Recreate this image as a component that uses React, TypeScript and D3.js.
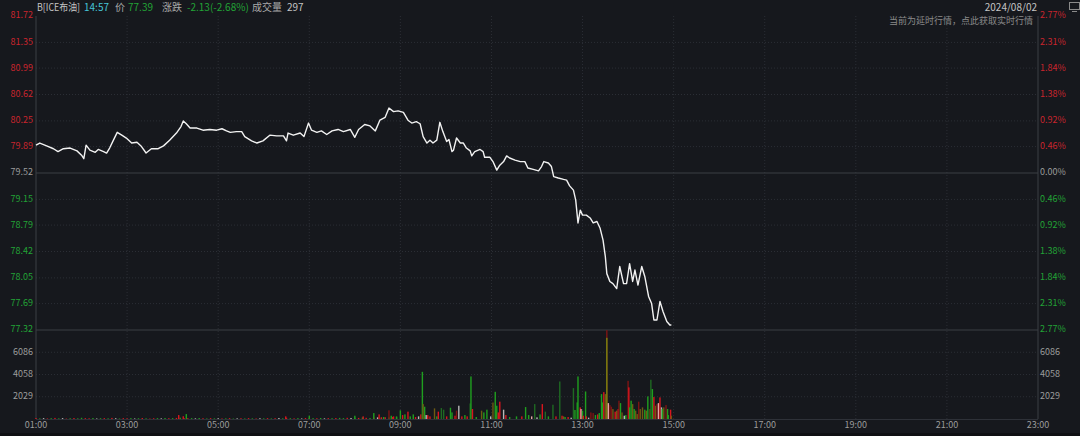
import * as d3 from "d3";

// axis labels as shown on the chart
const priceTicks = ["81.72", "81.35", "80.99", "80.62", "80.25", "79.89", "79.52", "79.15", "78.79", "78.42", "78.05", "77.69", "77.32"];
const pctTicks = ["2.77%", "2.31%", "1.84%", "1.38%", "0.92%", "0.46%", "0.00%", "0.46%", "0.92%", "1.38%", "1.84%", "2.31%", "2.77%"];
const volTicks = [2029, 4058, 6086];
const timeTicks = ["01:00", "03:00", "05:00", "07:00", "09:00", "11:00", "13:00", "15:00", "17:00", "19:00", "21:00", "23:00"];
const prevClose = 79.52;

// intraday price (time, price)
const pricePoints: [string, number][] = [
  ["01:00", 79.91], ["01:05", 79.94], ["01:14", 79.90], ["01:23", 79.86], ["01:29", 79.82], ["01:36", 79.86],
  ["01:45", 79.87], ["01:54", 79.83], ["02:00", 79.77], ["02:03", 79.72], ["02:06", 79.91], ["02:11", 79.84],
  ["02:18", 79.81], ["02:22", 79.85], ["02:29", 79.82], ["02:33", 79.80], ["02:37", 79.87], ["02:42", 79.98],
  ["02:47", 80.09], ["02:53", 80.05], ["02:59", 80.01], ["03:06", 79.94], ["03:13", 79.95], ["03:19", 79.89],
  ["03:25", 79.80], ["03:32", 79.86], ["03:41", 79.86], ["03:48", 79.90], ["03:56", 79.98], ["04:05", 80.08],
  ["04:11", 80.17], ["04:14", 80.25], ["04:18", 80.21], ["04:23", 80.15], ["04:32", 80.15], ["04:40", 80.12],
  ["04:49", 80.13], ["04:58", 80.12], ["05:05", 80.14], ["05:11", 80.11], ["05:16", 80.09], ["05:24", 80.10],
  ["05:31", 80.10], ["05:35", 80.03], ["05:44", 79.97], ["05:51", 79.94], ["05:59", 79.97], ["06:08", 80.05],
  ["06:17", 80.04], ["06:26", 80.04], ["06:30", 79.97], ["06:32", 80.08], ["06:39", 80.05], ["06:48", 80.08],
  ["06:53", 80.03], ["06:59", 80.22], ["07:03", 80.12], ["07:10", 80.09], ["07:16", 80.11], ["07:23", 80.06],
  ["07:30", 80.11], ["07:38", 80.13], ["07:45", 80.10], ["07:54", 80.13], ["08:00", 80.02], ["08:05", 80.13],
  ["08:13", 80.20], ["08:20", 80.18], ["08:27", 80.11], ["08:33", 80.26], ["08:40", 80.30], ["08:45", 80.43],
  ["08:51", 80.38], ["08:57", 80.39], ["09:04", 80.37], ["09:10", 80.26], ["09:15", 80.22], ["09:21", 80.24],
  ["09:26", 80.21], ["09:30", 80.03], ["09:35", 79.94], ["09:39", 79.98], ["09:43", 79.94], ["09:48", 79.98],
  ["09:52", 80.23], ["09:56", 80.10], ["10:01", 79.96], ["10:04", 79.99], ["10:08", 79.82], ["10:10", 79.84],
  ["10:14", 80.01], ["10:19", 79.94], ["10:23", 79.94], ["10:27", 79.87], ["10:32", 79.83], ["10:34", 79.76],
  ["10:38", 79.82], ["10:45", 79.85], ["10:49", 79.82], ["10:51", 79.74], ["10:58", 79.74], ["11:02", 79.68],
  ["11:07", 79.56], ["11:11", 79.63], ["11:16", 79.68], ["11:20", 79.76], ["11:24", 79.73], ["11:31", 79.70],
  ["11:38", 79.68], ["11:44", 79.68], ["11:48", 79.59], ["11:55", 79.57], ["12:02", 79.55], ["12:06", 79.61],
  ["12:09", 79.68], ["12:15", 79.66], ["12:19", 79.61], ["12:22", 79.47], ["12:28", 79.45], ["12:35", 79.43],
  ["12:39", 79.42], ["12:43", 79.34], ["12:48", 79.28], ["12:51", 79.14], ["12:54", 78.82], ["12:57", 79.00],
  ["13:00", 78.93], ["13:05", 78.93], ["13:10", 78.89], ["13:14", 78.82], ["13:19", 78.84], ["13:23", 78.75],
  ["13:27", 78.58], ["13:30", 78.35], ["13:32", 78.11], ["13:36", 78.00], ["13:40", 77.97], ["13:45", 77.90],
  ["13:49", 78.21], ["13:54", 77.97], ["13:58", 77.97], ["14:02", 78.25], ["14:06", 78.00], ["14:09", 78.16],
  ["14:13", 77.95], ["14:18", 78.21], ["14:22", 78.07], ["14:27", 77.79], ["14:31", 77.69], ["14:34", 77.46],
  ["14:38", 77.46], ["14:42", 77.72], ["14:46", 77.58], ["14:51", 77.44], ["14:55", 77.39], ["14:57", 77.39],
];

// quiet-session volume, one value every 5 minutes from 01:00
const baseVol = [
  90, 60, 80, 50, 70, 100, 60, 80, 40, 70, 90, 60,
  110, 80, 60, 90, 50, 70, 80, 60, 100, 70, 50, 80,
  60, 80, 50, 70, 90, 60, 40, 70, 80, 60, 90, 70,
  80, 100, 120, 90, 70, 80, 60, 90, 70, 50, 80, 60,
  70, 50, 60, 80, 40, 60, 70, 50, 80, 60, 50, 70,
  60, 80, 50, 70, 90, 60, 110, 70, 60, 80, 50, 90,
  100, 80, 70, 90, 60, 80, 70, 90, 100, 80, 110, 90,
  120, 100, 140, 110, 90, 130, 150, 120, 160, 140, 180, 150,
];
const baseColor =
  "rgwrgrgwrgrg" + "grrgwgrgrwgr" + "rgwgrgrrgwgr" + "grgrrgwgrgrg" +
  "wrgrgwrgrgrw" + "grgrwgrgrgwr" + "rgrgwrgrggrw" + "grgrgrwgrgrg";

// volume bars (time, volume, colour key)
const volBars: [string, number, string][] = [
  ["04:08", 360, "r"], ["04:14", 250, "r"], ["04:18", 450, "g"], ["06:29", 240, "r"], ["07:00", 300, "g"],
  ["08:00", 300, "g"], ["08:11", 240, "r"], ["08:25", 540, "g"], ["08:32", 420, "r"], ["08:35", 150, "r"],
  ["08:38", 180, "g"], ["08:45", 790, "R"], ["08:48", 300, "g"], ["08:51", 240, "r"], ["08:55", 240, "g"],
  ["09:00", 790, "g"], ["09:03", 360, "r"], ["09:06", 420, "g"], ["09:10", 670, "r"], ["09:13", 240, "g"],
  ["09:17", 420, "g"], ["09:20", 180, "r"], ["09:24", 240, "w"], ["09:27", 420, "r"], ["09:29", 4300, "g"],
  ["09:30", 1360, "o"], ["09:32", 1120, "g"], ["09:34", 360, "w"], ["09:36", 360, "r"], ["09:39", 240, "r"],
  ["09:45", 970, "o"], ["09:48", 240, "g"], ["09:50", 670, "r"], ["09:54", 1000, "G"], ["09:57", 850, "G"],
  ["10:01", 240, "r"], ["10:06", 1030, "g"], ["10:08", 600, "g"], ["10:12", 300, "r"], ["10:14", 760, "R"],
  ["10:17", 1210, "w"], ["10:21", 240, "r"], ["10:25", 360, "g"], ["10:28", 240, "r"], ["10:32", 1420, "G"],
  ["10:33", 3880, "g"], ["10:35", 910, "r"], ["10:40", 180, "g"], ["10:47", 760, "o"], ["10:50", 600, "g"],
  ["10:54", 850, "g"], ["10:59", 240, "w"], ["11:02", 1500, "o"], ["11:05", 2480, "g"], ["11:07", 1210, "g"],
  ["11:09", 600, "r"], ["11:11", 1580, "r"], ["11:16", 850, "w"], ["11:19", 360, "r"], ["11:24", 180, "g"],
  ["11:33", 240, "g"], ["11:40", 240, "r"], ["11:45", 1090, "g"], ["11:49", 360, "g"], ["11:53", 240, "p"],
  ["11:57", 1360, "G"], ["12:00", 150, "w"], ["12:04", 420, "g"], ["12:07", 1360, "r"], ["12:11", 670, "G"],
  ["12:15", 240, "g"], ["12:21", 1300, "G"], ["12:25", 240, "r"], ["12:30", 3420, "G"], ["12:33", 300, "r"],
  ["12:35", 240, "o"], ["12:37", 180, "g"], ["12:41", 180, "r"], ["12:45", 120, "w"], ["12:48", 2820, "G"],
  ["12:50", 820, "g"], ["12:53", 1510, "g"], ["12:54", 3880, "g"], ["12:57", 1060, "r"], ["12:58", 910, "p"],
  ["13:00", 760, "g"], ["13:01", 300, "r"], ["13:04", 2510, "g"], ["13:05", 240, "r"], ["13:08", 120, "w"],
  ["13:11", 600, "R"], ["13:14", 540, "R"], ["13:17", 360, "g"], ["13:20", 420, "r"], ["13:22", 540, "g"],
  ["13:25", 2270, "g"], ["13:26", 1510, "g"], ["13:28", 2450, "r"], ["13:30", 2270, "o"], ["13:32", 8100, "R"],
  ["13:32", 7400, "y"], ["13:34", 1450, "p"], ["13:36", 1270, "R"], ["13:38", 1120, "R"], ["13:40", 910, "o"],
  ["13:43", 670, "r"], ["13:45", 760, "o"], ["13:47", 910, "r"], ["13:48", 1670, "R"], ["13:50", 1450, "g"],
  ["13:52", 600, "o"], ["13:55", 300, "w"], ["13:57", 360, "g"], ["14:00", 3480, "R"], ["14:01", 2880, "r"],
  ["14:02", 1060, "g"], ["14:04", 1670, "g"], ["14:06", 1360, "o"], ["14:08", 910, "g"], ["14:10", 760, "o"],
  ["14:12", 450, "o"], ["14:14", 1580, "R"], ["14:16", 910, "o"], ["14:19", 1060, "o"], ["14:22", 850, "g"],
  ["14:24", 760, "o"], ["14:26", 2060, "g"], ["14:29", 910, "o"], ["14:30", 3580, "G"], ["14:32", 2730, "g"],
  ["14:34", 2000, "r"], ["14:36", 1210, "o"], ["14:38", 1360, "R"], ["14:40", 1450, "p"], ["14:42", 1970, "r"],
  ["14:44", 1060, "w"], ["14:45", 910, "g"], ["14:47", 1060, "o"], ["14:50", 1270, "R"], ["14:52", 910, "g"],
  ["14:53", 360, "g"], ["14:56", 850, "r"], ["14:57", 300, "o"],
];

const barColors: Record<string, string> = {
  r: "#d8161e", R: "#7e1414", g: "#1f9f1f", G: "#1f6a22",
  o: "#6e5a12", y: "#77880f", w: "#b8b8b8", p: "#e6a6a6",
};

const toMin = (t: string) => {
  const [h, m] = t.split(":").map(Number);
  return h * 60 + m;
};

const W = 1080;
const H = 436;
const left = 36;
const right = 1038;
const top = 16;
const priceBottom = 330;
const volBottom = 419;

const font = "'Noto Sans CJK SC', 'Noto Sans', sans-serif";
const red = "#c9252d";
const green = "#22a336";
const gray = "#9c9c9c";
const grid = "#2b2e35";
const solid = "#3b3e45";

export default function App() {
  const x = d3.scaleLinear().domain([toMin("01:00"), toMin("23:00")]).range([left, right]);
  const y = d3.scaleLinear().domain([77.32, 81.72]).range([priceBottom, top]);
  const yv = d3.scaleLinear().domain([0, 8115]).range([volBottom, priceBottom]);

  const line = d3.line<[string, number]>()
    .x((d) => x(toMin(d[0])))
    .y((d) => y(d[1]));

  const tickColor = (v: number) => (v > prevClose ? red : v < prevClose ? green : gray);

  return (
    <svg width={W} height={H} style={{ position: "absolute", left: 0, top: 0, background: "#16181d" }} fontFamily={font}>
      <rect width={W} height={H} fill="#16181d" />
      <rect y={433} width={W} height={3} fill="#0f1013" />

      {/* vertical grid */}
      {timeTicks.slice(1, -1).map((t) => (
        <line key={t} x1={x(toMin(t))} x2={x(toMin(t))} y1={top} y2={volBottom} stroke={grid} strokeDasharray="1,2" />
      ))}

      {/* price grid */}
      {priceTicks.map((p) => {
        const v = +p;
        if (v === 81.72 || v === prevClose || v === 77.32) return null;
        return <line key={p} x1={left} x2={right} y1={y(v)} y2={y(v)} stroke={grid} strokeDasharray="1,2" />;
      })}
      <line x1={left} x2={right} y1={y(prevClose)} y2={y(prevClose)} stroke={solid} />
      <line x1={left} x2={right} y1={priceBottom} y2={priceBottom} stroke={solid} />

      {/* volume grid */}
      {volTicks.map((v) => (
        <line key={v} x1={left} x2={right} y1={yv(v)} y2={yv(v)} stroke={grid} strokeDasharray="1,2" />
      ))}
      <line x1={left} x2={right} y1={volBottom + 0.5} y2={volBottom + 0.5} stroke="#2e3138" />

      {/* axes */}
      <line x1={left} x2={left} y1={top} y2={volBottom} stroke={solid} />
      <line x1={right} x2={right} y1={top} y2={volBottom} stroke={solid} />

      {/* volume bars */}
      {baseVol.map((v, i) => {
        const bx = x(toMin("01:00") + i * 5);
        return <rect key={"b" + i} x={bx - 0.7} y={yv(v)} width={1.4} height={volBottom - yv(v)} fill={barColors[baseColor[i]]} />;
      })}
      {volBars.map(([t, v, c], i) => (
        <rect key={"v" + i} x={x(toMin(t)) - 0.7} y={yv(v)} width={1.4} height={volBottom - yv(v)} fill={barColors[c]} />
      ))}

      {/* price line */}
      <path d={line(pricePoints) ?? ""} fill="none" stroke="#f2f2f2" strokeWidth={1.4} strokeLinejoin="round" />

      {/* left price labels */}
      {priceTicks.map((p) => (
        <text key={p} x={left - 3} y={y(+p)} textAnchor="end" dominantBaseline="middle" fontSize={9} fill={tickColor(+p)}>{p}</text>
      ))}
      {/* right pct labels */}
      {pctTicks.map((p, i) => {
        const v = +priceTicks[i];
        return (
          <text key={i} x={right + 2} y={y(v)} dominantBaseline="middle" fontSize={9} fill={tickColor(v)}>{p}</text>
        );
      })}
      {/* volume labels */}
      {volTicks.map((v) => (
        <g key={v}>
          <text x={left - 3} y={yv(v)} textAnchor="end" dominantBaseline="middle" fontSize={9} fill={gray}>{v}</text>
          <text x={right + 2} y={yv(v)} dominantBaseline="middle" fontSize={9} fill={gray}>{v}</text>
        </g>
      ))}
      {/* time labels */}
      {timeTicks.map((t) => (
        <text key={t} x={x(toMin(t))} y={426} textAnchor="middle" dominantBaseline="middle" fontSize={9} fill={gray}>{t}</text>
      ))}

      {/* header */}
      <g fontSize={10} dominantBaseline="middle">
        <text x={37} y={8} fill="#c4c4c4" textLength={43} lengthAdjust="spacingAndGlyphs">B[ICE布油]</text>
        <text x={84} y={8} fill="#45c4d6">14:57</text>
        <text x={115} y={8} fill="#a8a8a8">价</text>
        <text x={128} y={8} fill={green}>77.39</text>
        <text x={162} y={8} fill="#a8a8a8">涨跌</text>
        <text x={187} y={8} fill={green}>-2.13(-2.68%)</text>
        <text x={252} y={8} fill="#a8a8a8">成交量</text>
        <text x={287} y={8} fill="#c4c4c4">297</text>
      </g>
      <text x={1037} y={8} textAnchor="end" dominantBaseline="middle" fontSize={10} fill="#c4c4c4">2024/08/02</text>
      <text x={1033} y={22} textAnchor="end" dominantBaseline="middle" fontSize={9} fill="#8a8a8a">当前为延时行情，点此获取实时行情</text>

      {/* small screen icon */}
      <rect x={1069.5} y={2.5} width={10} height={7} fill="none" stroke="#8a8a8a" />
      <line x1={1072} x2={1077} y1={11.5} y2={11.5} stroke="#8a8a8a" />
    </svg>
  );
}
